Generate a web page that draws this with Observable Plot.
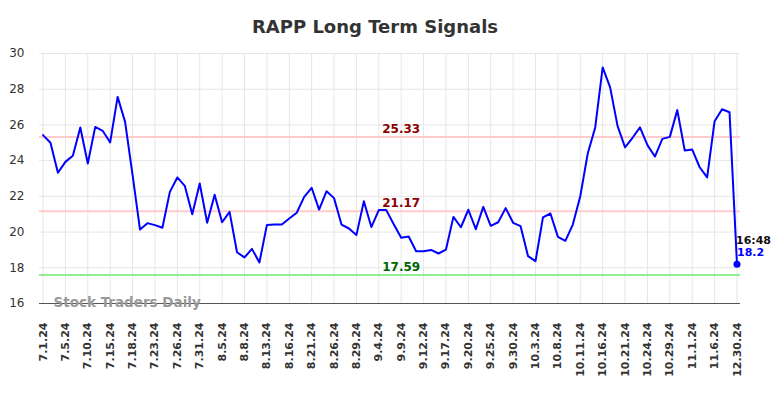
<!DOCTYPE html>
<html>
<head>
<meta charset="utf-8">
<script src="https://cdn.jsdelivr.net/npm/d3@7"></script>
<script src="https://cdn.jsdelivr.net/npm/@observablehq/plot@0.6"></script>
<style>
  body { margin: 0; background: #fff; font-family: "DejaVu Sans", sans-serif; }
  #wrap { width: 784px; height: 398px; position: relative; }
  #title { height: 40px; box-sizing: border-box; padding-top: 17px; line-height: 20px; font-size: 18px; font-weight: bold; color: #333; text-align: center; padding-right: 34px; }
</style>
</head>
<body>
<div id="wrap">
  <div id="title">RAPP Long Term Signals</div>
  <div id="chart"></div>
</div>
<script>
const dates = [
  "7.1.24","7.2.24","7.3.24","7.5.24","7.8.24","7.9.24","7.10.24","7.11.24","7.12.24","7.15.24",
  "7.16.24","7.17.24","7.18.24","7.19.24","7.22.24","7.23.24","7.24.24","7.25.24","7.26.24","7.29.24",
  "7.30.24","7.31.24","8.1.24","8.2.24","8.5.24","8.6.24","8.7.24","8.8.24","8.9.24","8.12.24",
  "8.13.24","8.14.24","8.15.24","8.16.24","8.19.24","8.20.24","8.21.24","8.22.24","8.23.24","8.26.24",
  "8.27.24","8.28.24","8.29.24","8.30.24","9.3.24","9.4.24","9.5.24","9.6.24","9.9.24","9.10.24",
  "9.11.24","9.12.24","9.13.24","9.16.24","9.17.24","9.18.24","9.19.24","9.20.24","9.23.24","9.24.24",
  "9.25.24","9.26.24","9.27.24","9.30.24","10.1.24","10.2.24","10.3.24","10.4.24","10.7.24","10.8.24",
  "10.9.24","10.10.24","10.11.24","10.14.24","10.15.24","10.16.24","10.17.24","10.18.24","10.21.24","10.22.24",
  "10.23.24","10.24.24","10.25.24","10.28.24","10.29.24","10.30.24","10.31.24","11.1.24","11.4.24","11.5.24",
  "11.6.24","11.7.24","11.8.24","12.30.24"
];
const values = [
  25.43,25.0,23.32,23.93,24.27,25.86,23.84,25.89,25.67,25.02,
  27.57,26.17,23.2,20.14,20.5,20.39,20.24,22.25,23.06,22.59,
  21.0,22.72,20.52,22.09,20.55,21.13,18.87,18.58,19.06,18.3,
  20.39,20.42,20.42,20.76,21.08,21.97,22.48,21.26,22.29,21.9,
  20.42,20.2,19.83,21.73,20.28,21.23,21.23,20.44,19.68,19.75,
  18.93,18.93,19.0,18.8,19.02,20.85,20.27,21.25,20.16,21.41,
  20.35,20.55,21.34,20.52,20.33,18.65,18.37,20.82,21.04,19.73,
  19.51,20.42,22.01,24.4,25.86,29.22,28.1,25.93,24.74,25.28,
  25.86,24.87,24.23,25.22,25.33,26.83,24.57,24.62,23.63,23.06,
  26.21,26.88,26.71,18.2
];
const tickLabels = [
  "7.1.24","7.5.24","7.10.24","7.15.24","7.18.24","7.23.24","7.26.24","7.31.24","8.5.24","8.8.24",
  "8.13.24","8.16.24","8.21.24","8.26.24","8.29.24","9.4.24","9.9.24","9.12.24","9.17.24","9.20.24",
  "9.25.24","9.30.24","10.3.24","10.8.24","10.11.24","10.16.24","10.21.24","10.24.24","10.29.24","11.1.24",
  "11.6.24","12.30.24"
];
const yTicks = [16, 18, 20, 22, 24, 26, 28, 30];
const resistanceHigh = 25.33;
const resistanceMid = 21.17;
const support = 17.59;
const lastTime = "16:48";
const watermark = "Stock Traders Daily";

const data = dates.map((d, i) => ({date: d, value: values[i]}));
const last = data[data.length - 1];
const labelDate = dates[48];

const chart = Plot.plot({
  width: 784,
  height: 358,
  marginTop: 13,
  marginLeft: 39,
  marginRight: 44,
  marginBottom: 95,
  style: {fontFamily: "DejaVu Sans, sans-serif", color: "#333", background: "#fff"},
  x: {type: "point", domain: dates, padding: 0.47},
  y: {domain: [16, 30]},
  marks: [
    Plot.gridY(yTicks, {stroke: "#e6e6e6", strokeOpacity: 1, strokeWidth: 1}),
    Plot.gridX(tickLabels, {stroke: "#e6e6e6", strokeOpacity: 1, strokeWidth: 1}),
    Plot.ruleY([resistanceHigh], {stroke: "#ffcccc", strokeWidth: 2}),
    Plot.ruleY([resistanceMid], {stroke: "#ffcccc", strokeWidth: 2}),
    Plot.ruleY([support], {stroke: "#90ee90", strokeWidth: 2}),
    Plot.axisY(yTicks, {tickSize: 0, tickPadding: 15, fontSize: 12, fill: "#333", label: null}),
    Plot.axisX(tickLabels, {tickSize: 0, tickRotate: -90, tickPadding: 19, fontSize: 11, fontWeight: "bold", fill: "#333", label: null}),
    Plot.ruleY([16], {stroke: "#555", strokeWidth: 1}),
    Plot.text([watermark], {frameAnchor: "bottom-left", dx: 14, dy: -1, text: d => d, textAnchor: "start", lineAnchor: "middle", fontSize: 13.5, fontWeight: "bold", fill: "#999"}),
    Plot.line(data, {x: "date", y: "value", stroke: "#0000ff", strokeWidth: 2}),
    Plot.text([resistanceHigh], {x: () => labelDate, y: d => d, text: d => d.toFixed(2), dy: -8, fontSize: 12, fontWeight: "bold", fill: "#8b0000"}),
    Plot.text([resistanceMid], {x: () => labelDate, y: d => d, text: d => d.toFixed(2), dy: -8, fontSize: 12, fontWeight: "bold", fill: "#8b0000"}),
    Plot.text([support], {x: () => labelDate, y: d => d, text: d => d.toFixed(2), dy: -8, fontSize: 12, fontWeight: "bold", fill: "#006400"}),
    Plot.dot([last], {x: "date", y: "value", r: 3.5, fill: "#0000ff", stroke: "none"}),
    Plot.text([last], {x: "date", y: "value", text: () => lastTime, textAnchor: "start", dx: -1, dy: -24, fontSize: 11, fontWeight: "bold", fill: "#111"}),
    Plot.text([last], {x: "date", y: "value", text: d => String(d.value), textAnchor: "start", dx: 0, dy: -12, fontSize: 11, fontWeight: "bold", fill: "#0000ff"})
  ]
});
document.getElementById("chart").appendChild(chart);
</script>
</body>
</html>
